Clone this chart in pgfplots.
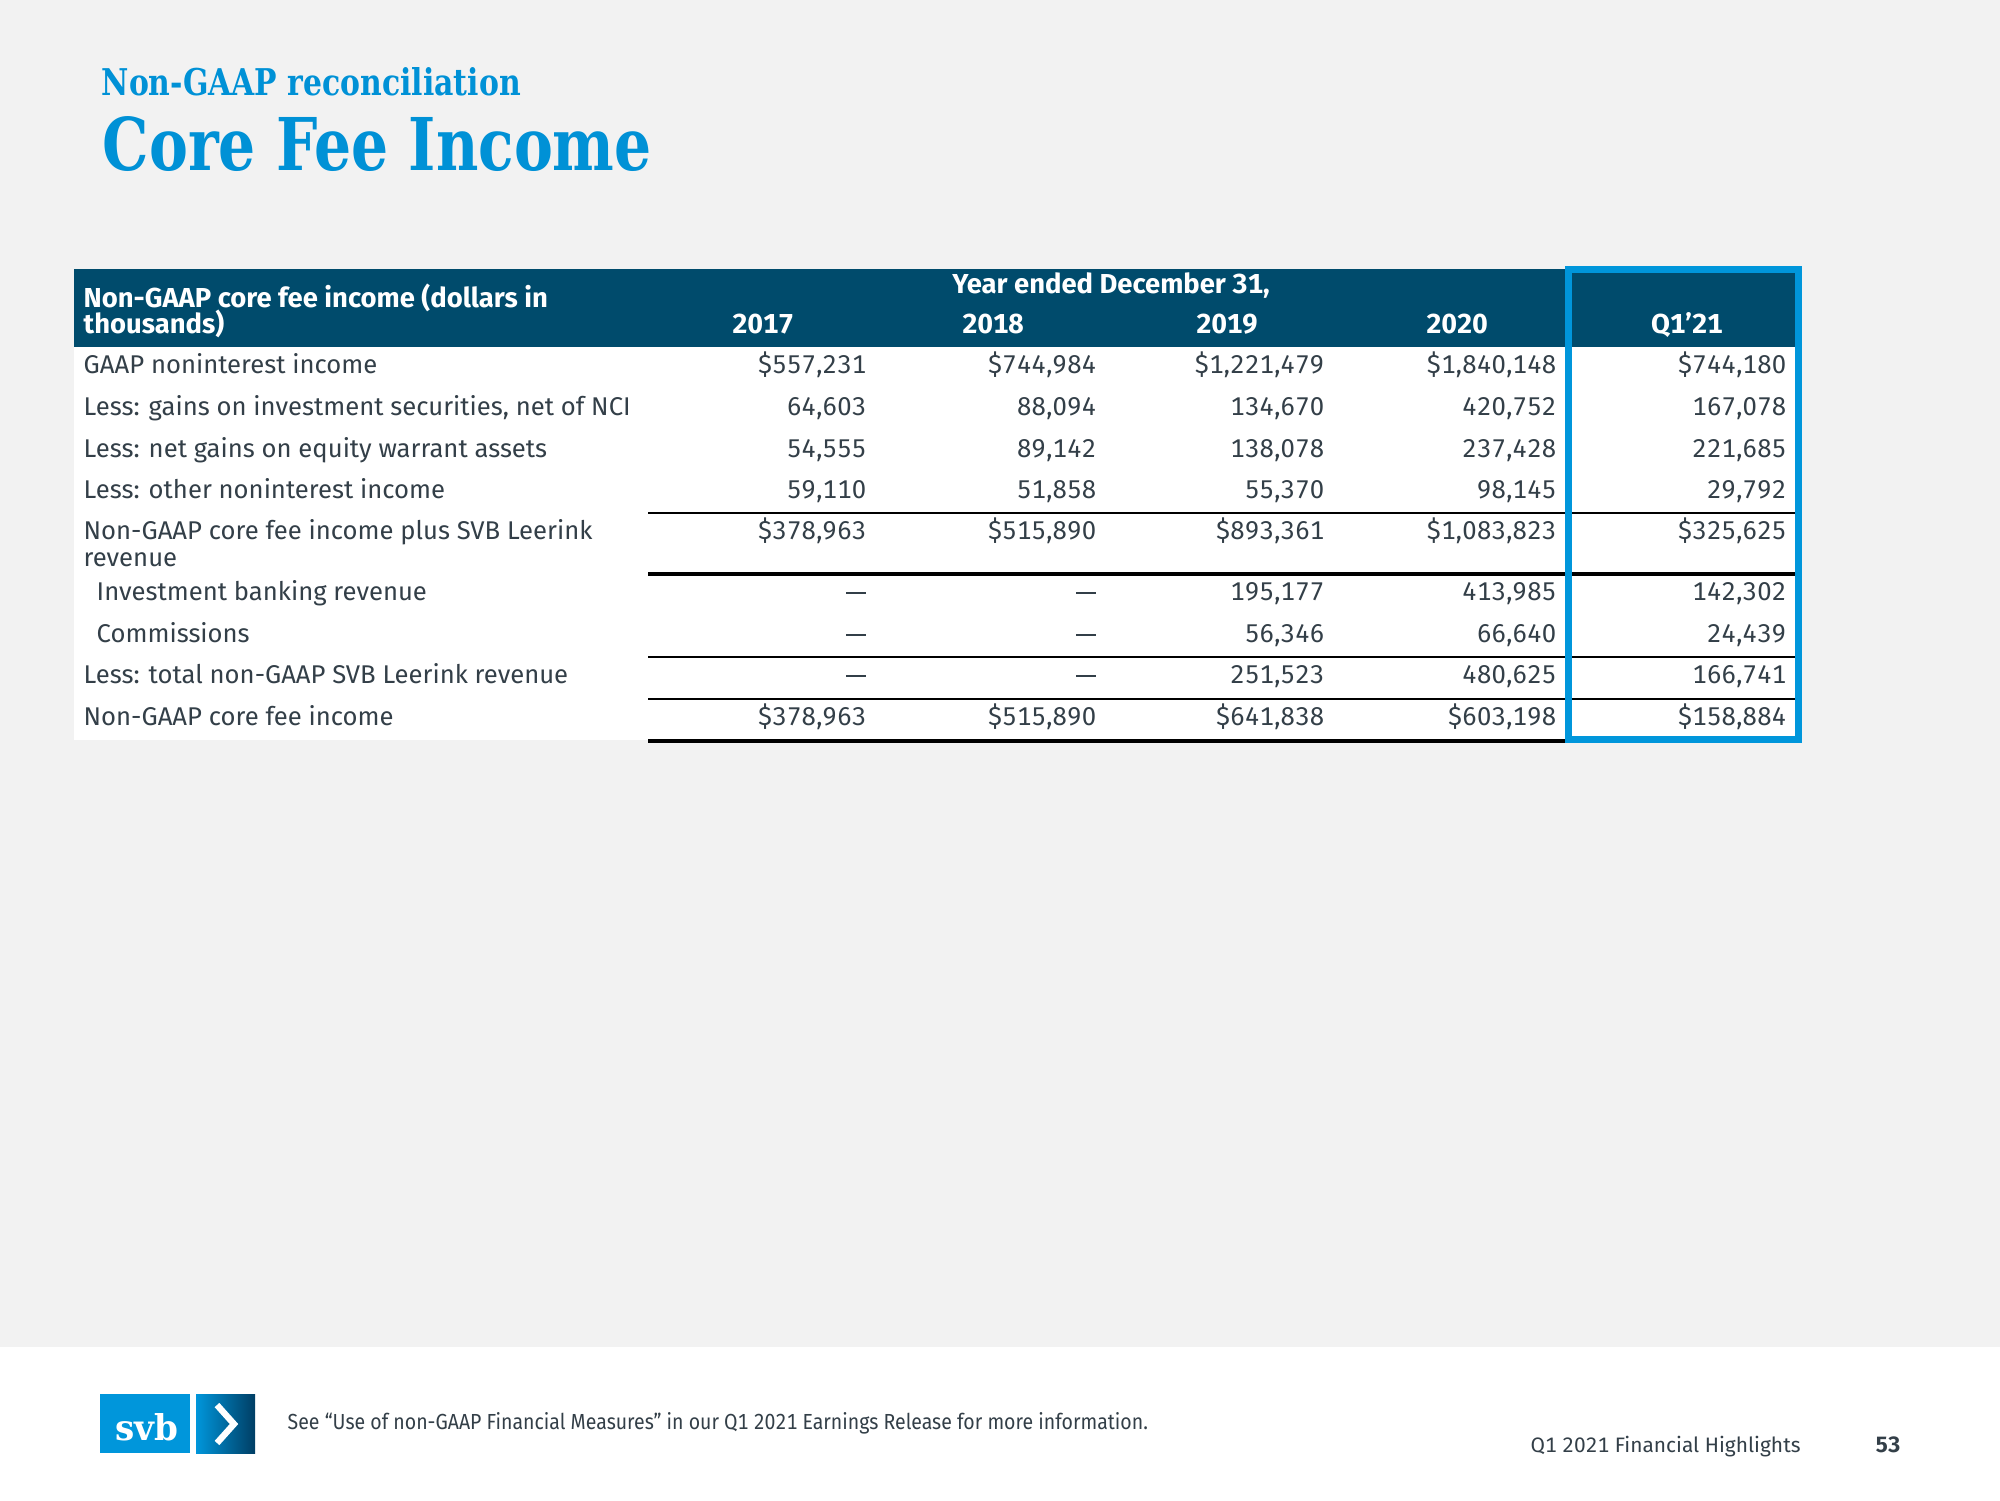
\documentclass[border=0pt]{standalone}
\usepackage{pgfplots}
\pgfplotsset{compat=1.18}
\usepackage{fontspec}
\setmainfont{Fira Sans}[Numbers=Monospaced]
\newfontfamily\slab{DejaVu Serif}
\usepackage{graphicx}
\definecolor{txt}{RGB}{51,63,72}
\definecolor{hdr}{RGB}{0,75,108}
\definecolor{sblue}{RGB}{0,150,219}
\definecolor{tblue}{RGB}{0,145,214}
\definecolor{bggray}{RGB}{242,242,242}
\definecolor{navy}{RGB}{0,62,100}
\newcommand\bodyf{\fontsize{7.3pt}{8.8pt}\selectfont}
\newcommand\numf{\fontsize{7.3pt}{8.8pt}\selectfont\addfontfeatures{LetterSpace=1}}
\newcommand\hdrf{\fontsize{7.8pt}{9.6pt}\selectfont\bfseries}
\newcommand\nil{\rule[0.62mm]{2mm}{0.22mm}}
\begin{document}
\begin{tikzpicture}
\begin{axis}[
  width=200mm, height=150mm, scale only axis,
  xmin=0, xmax=2000, ymin=0, ymax=1500, y dir=reverse,
  axis lines=none, clip=false,
  every node near coord/.append style={font=\numf, text=txt, inner sep=0pt, anchor=base east},
]
% backgrounds
\fill[bggray] (axis cs:0,0) rectangle (axis cs:2000,1500);
\fill[white] (axis cs:0,1347) rectangle (axis cs:2000,1500);
\fill[white] (axis cs:74,347) rectangle (axis cs:1800,740);
\fill[hdr] (axis cs:74,269) rectangle (axis cs:1800,347);
% titles
\node[anchor=base west, inner sep=0pt, text=tblue] at (axis cs:101,95) {\resizebox{41.9mm}{2.8mm}{\slab\bfseries Non-GAAP reconciliation}};
\node[anchor=base west, inner sep=0pt, text=tblue] at (axis cs:102,170) {\resizebox{54.9mm}{5.4mm}{\slab\bfseries Core Fee Income}};
% header texts
\node[anchor=base west, inner sep=0pt, text=white, font=\hdrf] at (axis cs:83,307) {Non-GAAP core fee income (dollars in};
\node[anchor=base west, inner sep=0pt, text=white, font=\hdrf] at (axis cs:83,333) {thousands)};
\node[anchor=base, inner sep=0pt, text=white, font=\hdrf] at (axis cs:1111,293) {Year ended December 31,};
\node[anchor=base, inner sep=0pt, text=white, font=\hdrf] at (axis cs:763,333) {2017};
\node[anchor=base, inner sep=0pt, text=white, font=\hdrf] at (axis cs:993,333) {2018};
\node[anchor=base, inner sep=0pt, text=white, font=\hdrf] at (axis cs:1227,333) {2019};
\node[anchor=base, inner sep=0pt, text=white, font=\hdrf] at (axis cs:1457,333) {2020};
\node[anchor=base, inner sep=0pt, text=white, font=\hdrf] at (axis cs:1687,333) {Q1’21};
% rules
\draw[black, line width=0.77pt] (axis cs:648,513) -- (axis cs:1798,513);
\draw[black, line width=1.34pt] (axis cs:648,574) -- (axis cs:1798,574);
\draw[black, line width=0.77pt] (axis cs:648,657) -- (axis cs:1798,657);
\draw[black, line width=0.77pt] (axis cs:648,699) -- (axis cs:1798,699);
\draw[black, line width=1.34pt] (axis cs:648,741) -- (axis cs:1798,741);
% row labels
\addplot[draw=none, mark=none, nodes near coords, point meta=explicit symbolic,
  every node near coord/.append style={anchor=base west, font=\bodyf}] coordinates {
  (83,373) [GAAP noninterest income]
  (83,415) [Less: gains on investment securities, net of NCI]
  (83,457) [Less: net gains on equity warrant assets]
  (83,498) [Less: other noninterest income]
  (83,539) [Non-GAAP core fee income plus SVB Leerink]
  (83,566) [revenue]
  (96,600) [Investment banking revenue]
  (96,642) [Commissions]
  (83,683) [Less: total non-GAAP SVB Leerink revenue]
  (83,725) [Non-GAAP core fee income]
};
% 2017
\addplot[draw=none, mark=none, nodes near coords, point meta=explicit symbolic] coordinates {
  (867,373) [\$557,231] (867,415) [64,603] (867,457) [54,555] (867,498) [59,110]
  (867,539) [\$378,963] (867,600) [\nil] (867,642) [\nil] (867,683) [\nil] (867,725) [\$378,963]
};
% 2018
\addplot[draw=none, mark=none, nodes near coords, point meta=explicit symbolic] coordinates {
  (1097,373) [\$744,984] (1097,415) [88,094] (1097,457) [89,142] (1097,498) [51,858]
  (1097,539) [\$515,890] (1097,600) [\nil] (1097,642) [\nil] (1097,683) [\nil] (1097,725) [\$515,890]
};
% 2019
\addplot[draw=none, mark=none, nodes near coords, point meta=explicit symbolic] coordinates {
  (1325,373) [\$1,221,479] (1325,415) [134,670] (1325,457) [138,078] (1325,498) [55,370]
  (1325,539) [\$893,361] (1325,600) [195,177] (1325,642) [56,346] (1325,683) [251,523] (1325,725) [\$641,838]
};
% 2020
\addplot[draw=none, mark=none, nodes near coords, point meta=explicit symbolic] coordinates {
  (1557,373) [\$1,840,148] (1557,415) [420,752] (1557,457) [237,428] (1557,498) [98,145]
  (1557,539) [\$1,083,823] (1557,600) [413,985] (1557,642) [66,640] (1557,683) [480,625] (1557,725) [\$603,198]
};
% Q1'21
\addplot[draw=none, mark=none, nodes near coords, point meta=explicit symbolic] coordinates {
  (1787,373) [\$744,180] (1787,415) [167,078] (1787,457) [221,685] (1787,498) [29,792]
  (1787,539) [\$325,625] (1787,600) [142,302] (1787,642) [24,439] (1787,683) [166,741] (1787,725) [\$158,884]
};
% Q1 box
\draw[sblue, line width=2pt] (axis cs:1568.5,269.5) rectangle (axis cs:1798.5,739.5);
% footer logo
\fill[sblue] (axis cs:100,1394) rectangle (axis cs:190,1453);
\shade[left color=sblue, right color=navy] (axis cs:196,1394) rectangle (axis cs:255,1453);
\node[anchor=base west, inner sep=0pt, text=white] at (axis cs:115,1440) {\resizebox{6.3mm}{2.7mm}{\slab\bfseries svb}};
\draw[white, line width=1.8pt, line cap=butt, line join=miter] (axis cs:217,1405) -- (axis cs:234,1424) -- (axis cs:217,1443);
% footer texts
\node[anchor=base west, inner sep=0pt, text=txt, font=\fontsize{6.2pt}{7.4pt}\selectfont] at (axis cs:287,1429) {\scalebox{0.895}[1]{See “Use of non-GAAP Financial Measures” in our Q1 2021 Earnings Release for more information.}};
\node[anchor=base west, inner sep=0pt, text=txt, font=\fontsize{5.95pt}{7.4pt}\selectfont] at (axis cs:1530,1452) {Q1 2021 Financial Highlights};
\node[anchor=base west, inner sep=0pt, text=txt, font=\fontsize{6.3pt}{7.4pt}\selectfont\bfseries] at (axis cs:1875,1452) {53};
\end{axis}
\end{tikzpicture}
\end{document}
